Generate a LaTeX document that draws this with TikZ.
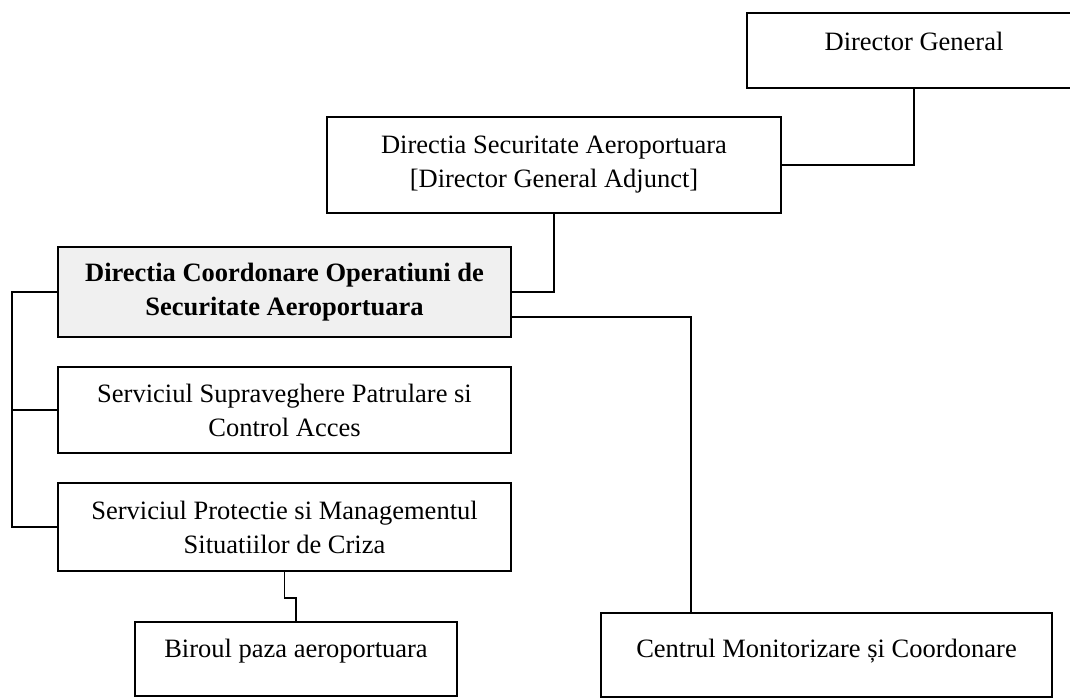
\documentclass[tikz,border=0pt]{standalone}
\usepackage{fontspec}
\setmainfont{Liberation Serif}
\begin{document}
\begin{tikzpicture}[x=1pt,y=-1pt,
  box/.style={draw=black, line width=2pt, rectangle, inner sep=0pt},
  boxtext/.style={font=\fontsize{26.5}{34}\selectfont, align=center, inner sep=0pt},
  link/.style={draw=black, line width=1.3pt}]
\useasboundingbox (0,0) rectangle (1070,699);
\clip (0,0) rectangle (1070,699);

% top of the chart
\node[box, minimum width=334pt, minimum height=75pt] (dg) at (914,50.5) {};
\node[boxtext] (dgt) at (914,41) {Director General};

\node[box, boxtext, minimum width=454pt, minimum height=96pt] (dsa) at (554,165)
  {Directia Securitate Aeroportuara\\{[}Director General Adjunct{]}};

% directorate (shaded)
\node[box, boxtext, fill=black!6, font=\fontsize{26.5}{34}\selectfont\bfseries,
      minimum width=453pt, minimum height=90pt] (dcosa) at (284.5,292)
  {Directia Coordonare Operatiuni de\\Securitate Aeroportuara};

% services
\node[box, boxtext, minimum width=453pt, minimum height=86pt] (ssp) at (284.5,410)
  {Serviciul Supraveghere Patrulare si\\Control Acces};
\node[box, boxtext, minimum width=453pt, minimum height=88pt] (spm) at (284.5,527)
  {Serviciul Protectie si Managementul\\Situatiilor de Criza};

% bottom row
\node[box, minimum width=322pt, minimum height=74pt] (br) at (296,659) {};
\node[boxtext] (brt) at (296,651) {Biroul paza aeroportuara};

\node[box, minimum width=451pt, minimum height=84pt] (cm) at (826.5,655) {};
\node[boxtext] (cmt) at (826.5,651) {Centrul Monitorizare și Coordonare};

% connectors
\coordinate (bus) at (12,0);
\coordinate (cmbranch) at (691,317);
\coordinate (jog) at (0,598);

\draw[link] (dg.south) |- (dsa.east);
\draw[link] (dsa.south) |- (dcosa.east);
\draw[link] (dcosa.east |- cmbranch) -| (cm.north -| cmbranch);
\draw[link] (dcosa.west) -| (bus |- spm.west) -- (spm.west);
\draw[link] (bus |- ssp.west) -- (ssp.west);
\draw[link] (spm.south) |- (jog -| br.north) -- (br.north);
\end{tikzpicture}
\end{document}
